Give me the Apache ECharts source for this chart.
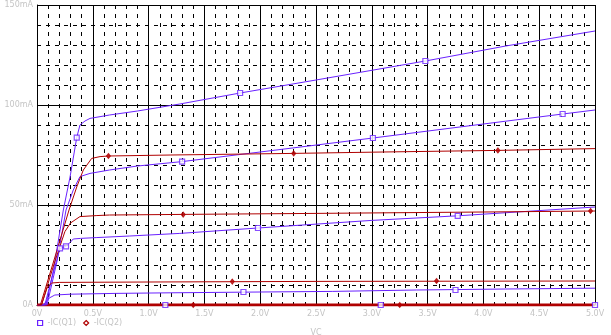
<!DOCTYPE html>
<html>
<head>
<meta charset="utf-8">
<script src="https://cdn.jsdelivr.net/npm/echarts/dist/echarts.min.js"></script>
<style>
  html, body { margin: 0; padding: 0; background: #fff; }
  #main { width: 611px; height: 335px; }
</style>
</head>
<body>
<div id="main"></div>
<script>
// VC in volts, IC in mA
var q1Top = [[0, 0], [0.08, 0], [0.15, 18], [0.236, 47.5], [0.296, 64], [0.356, 83.7], [0.385, 90], [0.43, 92], [0.475, 93.3], [0.65, 95], [0.9, 97], [1.28, 100.5], [1.82, 106], [2.5, 112.5], [3.48, 122], [4.2, 129.5], [5, 137]]
var q1Second = [[0, 0], [0.09, 0], [0.18, 22], [0.26, 47.5], [0.325, 57.5], [0.385, 64.2], [0.475, 65.8], [0.65, 67.5], [0.9, 69.5], [1.3, 71.7], [2, 76.5], [3.01, 83.5], [4, 90.5], [4.71, 95.5], [5, 97.5]]
var q1Third = [[0, 0], [0.07, 0], [0.14, 15], [0.206, 28.3], [0.26, 29.3], [0.3, 31.5], [0.325, 33], [0.39, 33.3], [0.53, 33.7], [0.83, 34.5], [1.28, 35.8], [1.98, 38.5], [3, 42.3], [3.77, 44.6], [4.5, 47.2], [5, 49]]
var q1Fourth = [[0, 0], [0.055, 0], [0.11, 3.5], [0.16, 5], [0.3, 5.4], [0.7, 5.8], [1.2, 6.1], [2, 6.5], [2.65, 6.8], [3.4, 7.5], [4.2, 8], [5, 8.4]]
var q1Zero = [[0, 0], [5, 0]]

var q2Top = [[0, 0], [0.03, 0], [0.15, 22], [0.287, 47.5], [0.356, 59], [0.415, 67.5], [0.49, 73.3], [0.565, 74.2], [0.64, 74.5], [1.2, 75], [2.3, 75.8], [3.1, 76.5], [4.13, 77.3], [5, 78.2]]
var q2Second = [[0, 0], [0.04, 0], [0.15, 20], [0.25, 36.7], [0.3, 41], [0.385, 44.2], [0.53, 44.7], [0.65, 45], [1.31, 45.3], [2.5, 45.8], [4, 46.5], [5, 47]]
var q2Third = [[0, 0], [0.04, 0], [0.09, 8.5], [0.13, 11], [0.2, 11.3], [1, 11.5], [2.5, 11.8], [5, 12]]
var q2Zero = [[0, 0], [5, 0]]

// trace markers
var q1Marks = [[0.356, 83.7], [1.82, 106], [3.48, 122], [1.3, 71.7], [3.01, 83.5], [4.71, 95.5], [0.206, 28.3], [0.26, 29.3], [1.98, 38.5], [3.77, 44.6], [1.85, 6.5], [3.75, 7.5], [1.15, 0], [3.08, 0], [5, 0]]
var q2Marks = [[0.64, 74.5], [2.3, 75.8], [4.13, 77.3], [1.31, 45.2], [4.96, 47], [1.75, 11.7], [3.58, 12], [1.4, 0], [3.25, 0]]

var BLUE = '#6a22ff'
var RED = '#b00000'
var GRAY = '#c4c4c4'

function curve (name, data, color, width) {
  return {
    name: name,
    type: 'line',
    data: data,
    symbol: 'none',
    lineStyle: { color: color, width: width || 1 },
    itemStyle: { color: color }
  }
}

var chart = echarts.init(document.getElementById('main'))
chart.setOption({
  animation: false,
  grid: { left: 37, right: 16, top: 5, bottom: 30, outerBoundsMode: 'none' },
  legend: {
    left: 37,
    top: 319,
    padding: 0,
    itemWidth: 5,
    itemHeight: 5,
    itemGap: 7,
    textStyle: { color: GRAY, fontSize: 8, fontFamily: 'DejaVu Sans' },
    data: [
      { name: '-IC(Q1)', icon: 'rect', itemStyle: { color: '#fff', borderColor: BLUE, borderWidth: 1.2 } },
      { name: '-IC(Q2)', icon: 'diamond', itemStyle: { color: '#fff', borderColor: RED, borderWidth: 1.2 } }
    ]
  },
  xAxis: {
    type: 'value',
    min: 0,
    max: 5,
    interval: 0.5,
    name: 'VC',
    nameLocation: 'middle',
    nameGap: 24,
    nameTextStyle: { color: GRAY, fontSize: 8, fontFamily: 'DejaVu Sans' },
    axisLine: { show: true, lineStyle: { color: '#000', width: 1 } },
    axisTick: { show: false },
    axisLabel: {
      color: GRAY,
      fontSize: 8,
      fontFamily: 'DejaVu Sans',
      margin: 5,
      formatter: function (v) { return v === 0 ? '0V' : v.toFixed(1) + 'V' }
    },
    splitLine: { show: true, lineStyle: { color: '#000', width: 1 } },
    minorTick: { show: false, splitNumber: 5 },
    minorSplitLine: { show: true, lineStyle: { color: '#000', width: 1, type: [4, 5] } }
  },
  yAxis: {
    type: 'value',
    min: 0,
    max: 150,
    interval: 50,
    axisLine: { show: true, lineStyle: { color: '#000', width: 1 } },
    axisTick: { show: false },
    axisLabel: {
      color: GRAY,
      fontSize: 8,
      fontFamily: 'DejaVu Sans',
      margin: 4,
      formatter: function (v) { return v === 0 ? '0A' : v + 'mA' }
    },
    splitLine: { show: true, lineStyle: { color: '#000', width: 1 } },
    minorTick: { show: false, splitNumber: 5 },
    minorSplitLine: { show: true, lineStyle: { color: '#000', width: 1, type: [4, 5] } }
  },
  series: [
    curve('-IC(Q1)', q1Zero, BLUE),
    curve('-IC(Q2)', q2Zero, RED, 3),
    curve('-IC(Q1)', q1Top, BLUE),
    curve('-IC(Q1)', q1Second, BLUE),
    curve('-IC(Q1)', q1Third, BLUE),
    curve('-IC(Q1)', q1Fourth, BLUE),
    curve('-IC(Q2)', q2Top, RED),
    curve('-IC(Q2)', q2Second, RED),
    curve('-IC(Q2)', q2Third, RED),
    {
      name: '-IC(Q1)',
      type: 'scatter',
      data: q1Marks,
      symbol: 'rect',
      symbolSize: 5,
      itemStyle: { color: '#fff', borderColor: BLUE, borderWidth: 1.2 },
      z: 5
    },
    {
      name: '-IC(Q2)',
      type: 'scatter',
      data: q2Marks,
      symbol: 'diamond',
      symbolSize: [4, 5],
      itemStyle: { color: RED, borderColor: RED, borderWidth: 1 },
      z: 5
    }
  ]
})
</script>
</body>
</html>
